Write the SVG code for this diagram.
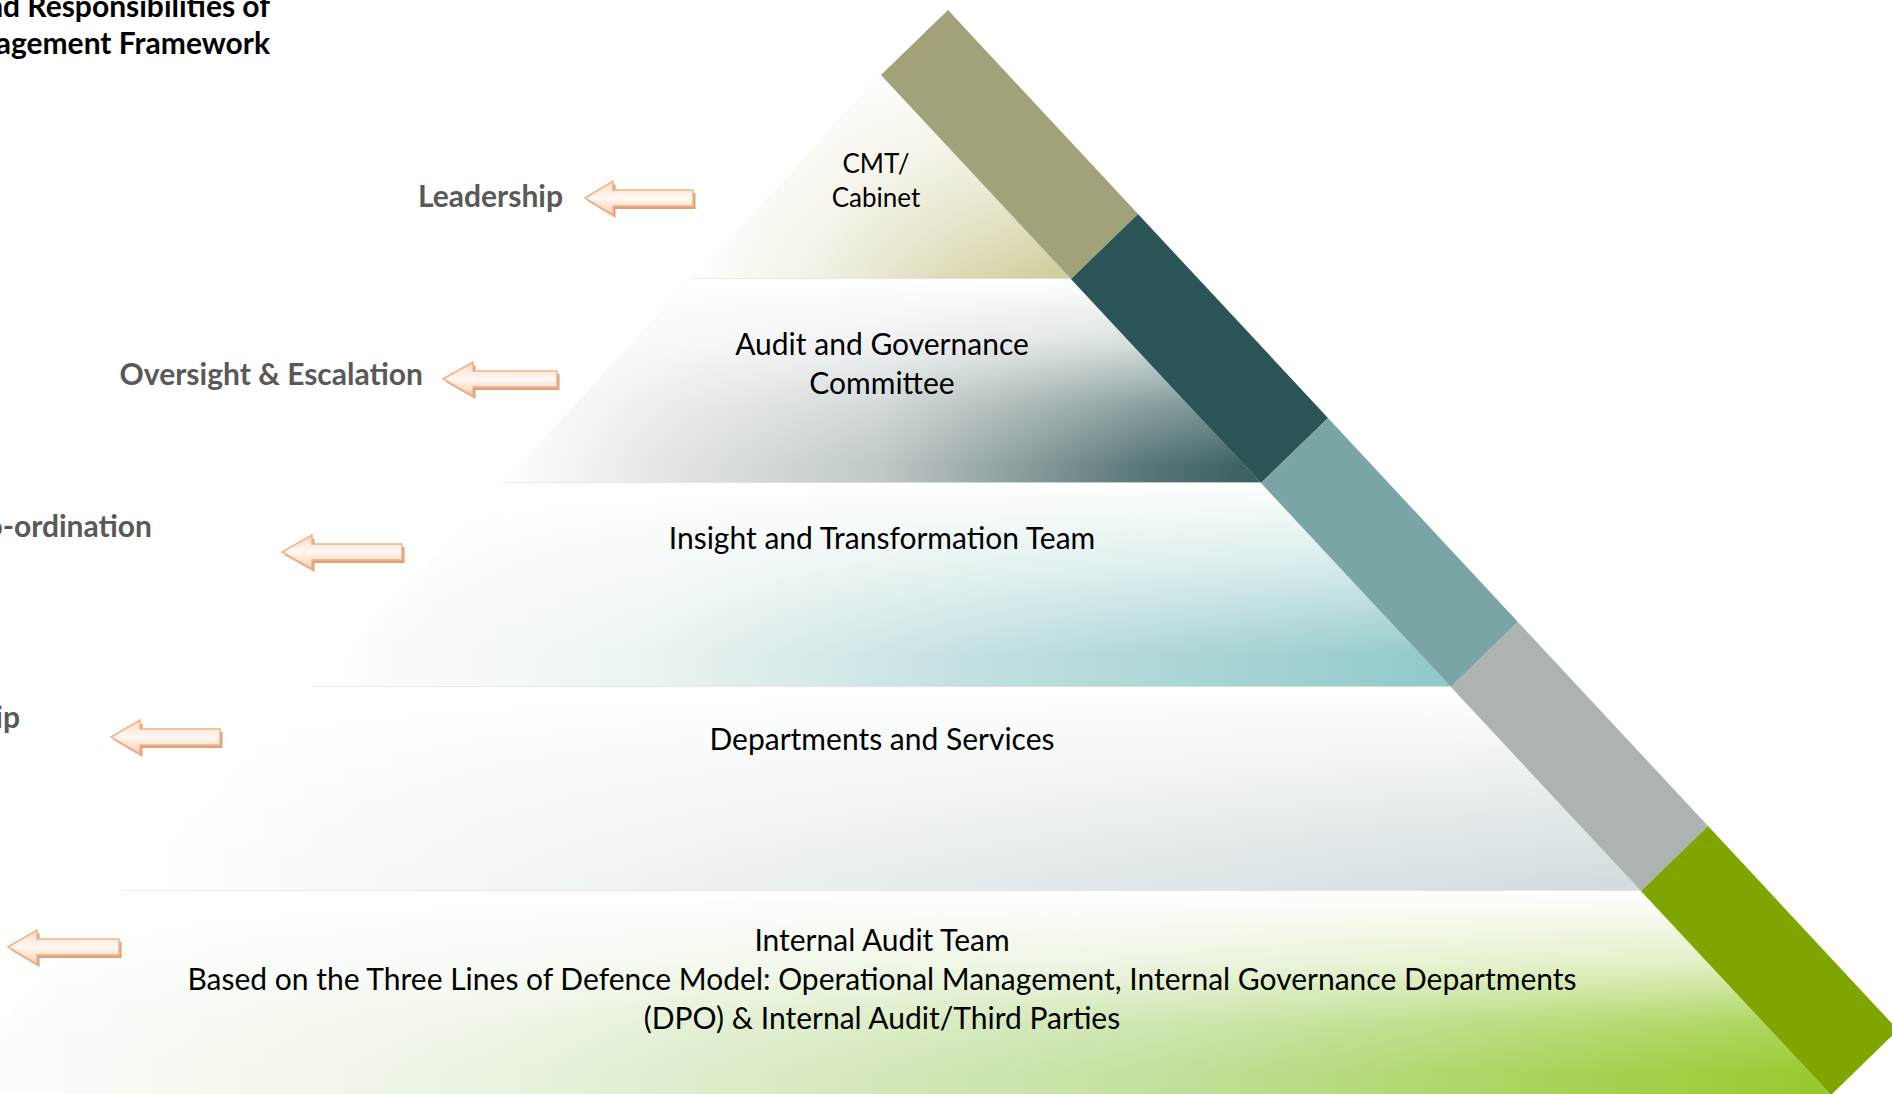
<svg xmlns="http://www.w3.org/2000/svg" width="1892" height="1094" viewBox="0 0 1892 1094">
<style>
.lbl{font-family:Lato,"Liberation Sans",sans-serif;font-weight:bold;font-size:30px;fill:#595959;text-anchor:end}
.ttl{font-family:Lato,"Liberation Sans",sans-serif;font-weight:bold;font-size:30px;fill:#000;text-anchor:end}
.txt{font-family:Lato,"Liberation Sans",sans-serif;font-size:30px;fill:#000;text-anchor:middle}
.sm{font-size:26px}
.sep{stroke:#e2e5e6;stroke-width:1.5;fill:none}
.arr{fill:url(#ga);stroke:#f4b383;stroke-width:1.5;stroke-linejoin:miter}
.shd{fill:#d8a47f}
</style>
<defs>
<linearGradient id="ga" x1="0" y1="0" x2="0" y2="1">
<stop offset="0" stop-color="#fbd0ad"/><stop offset="0.2" stop-color="#fde7d8"/><stop offset="0.5" stop-color="#fff8f3"/><stop offset="0.85" stop-color="#fcdac0"/><stop offset="1" stop-color="#f9c49b"/>
</linearGradient>
<linearGradient id="h1" gradientUnits="userSpaceOnUse" x1="692" y1="0" x2="1071" y2="0">
<stop offset="0" stop-color="#ffffff"/><stop offset="0.35" stop-color="#f0f0e2"/><stop offset="0.7" stop-color="#dcdab4"/><stop offset="1" stop-color="#cecc96"/>
</linearGradient>
<linearGradient id="v1" gradientUnits="userSpaceOnUse" x1="0" y1="75" x2="0" y2="279">
<stop offset="0" stop-color="#fff" stop-opacity="0.95"/><stop offset="0.5" stop-color="#fff" stop-opacity="0.55"/><stop offset="1" stop-color="#fff" stop-opacity="0"/>
</linearGradient>
<linearGradient id="h2" gradientUnits="userSpaceOnUse" x1="502" y1="0" x2="1261" y2="0">
<stop offset="0" stop-color="#ffffff"/><stop offset="0.22" stop-color="#e2e5e6"/><stop offset="0.5" stop-color="#c0c8c9"/><stop offset="0.7" stop-color="#869999"/><stop offset="0.85" stop-color="#577676"/><stop offset="1" stop-color="#355f5e"/>
</linearGradient>
<linearGradient id="v2" gradientUnits="userSpaceOnUse" x1="0" y1="279" x2="0" y2="483">
<stop offset="0" stop-color="#fff" stop-opacity="1"/><stop offset="0.3" stop-color="#fff" stop-opacity="0.78"/><stop offset="0.62" stop-color="#fff" stop-opacity="0.3"/><stop offset="0.92" stop-color="#fff" stop-opacity="0"/>
</linearGradient>
<linearGradient id="h3" gradientUnits="userSpaceOnUse" x1="312" y1="0" x2="1451" y2="0">
<stop offset="0" stop-color="#ffffff"/><stop offset="0.3" stop-color="#ebf3f3"/><stop offset="0.6" stop-color="#c0dfdf"/><stop offset="1" stop-color="#90c9c9"/>
</linearGradient>
<linearGradient id="v3" gradientUnits="userSpaceOnUse" x1="0" y1="483" x2="0" y2="687">
<stop offset="0" stop-color="#fff" stop-opacity="1"/><stop offset="0.4" stop-color="#fff" stop-opacity="0.6"/><stop offset="0.85" stop-color="#fff" stop-opacity="0"/>
</linearGradient>
<linearGradient id="h4" gradientUnits="userSpaceOnUse" x1="122" y1="0" x2="1641" y2="0">
<stop offset="0" stop-color="#ffffff"/><stop offset="0.3" stop-color="#f1f4f5"/><stop offset="1" stop-color="#d2dcdf"/>
</linearGradient>
<linearGradient id="v4" gradientUnits="userSpaceOnUse" x1="0" y1="687" x2="0" y2="891">
<stop offset="0" stop-color="#fff" stop-opacity="1"/><stop offset="0.95" stop-color="#fff" stop-opacity="0"/>
</linearGradient>
<linearGradient id="h5" gradientUnits="userSpaceOnUse" x1="-68" y1="0" x2="1831" y2="0">
<stop offset="0" stop-color="#ffffff"/><stop offset="0.3" stop-color="#eaf3e0"/><stop offset="0.65" stop-color="#c2e09c"/><stop offset="1" stop-color="#96ca2c"/>
</linearGradient>
<linearGradient id="v5" gradientUnits="userSpaceOnUse" x1="0" y1="891" x2="0" y2="1095">
<stop offset="0" stop-color="#fff" stop-opacity="1"/><stop offset="0.35" stop-color="#fff" stop-opacity="0.7"/><stop offset="0.65" stop-color="#fff" stop-opacity="0.2"/><stop offset="0.9" stop-color="#fff" stop-opacity="0"/>
</linearGradient>
</defs>
<rect width="1892" height="1094" fill="#fff"/>

<g id="title">
<text class="ttl" x="270" y="17">nd Responsibilities of</text>
<text class="ttl" x="270" y="54">agement Framework</text>
</g>

<g id="layer-cmt">
<polygon points="881,75 1071,279 692,279" fill="url(#h1)"/>
<polygon points="881,75 1071,279 692,279" fill="url(#v1)"/>
<line class="sep" x1="692" y1="279" x2="1071" y2="279"/>
<text class="txt sm" x="876" y="173">CMT/</text>
<text class="txt sm" x="876" y="207">Cabinet</text>
</g>
<g id="layer-audit">
<polygon points="692,279 1071,279 1261,483 502,483" fill="url(#h2)"/>
<polygon points="692,279 1071,279 1261,483 502,483" fill="url(#v2)"/>
<line class="sep" x1="502" y1="483" x2="1261" y2="483"/>
<text class="txt" x="882" y="355">Audit and Governance</text>
<text class="txt" x="882" y="394">Committee</text>
</g>
<g id="layer-insight">
<polygon points="502,483 1261,483 1451,687 312,687" fill="url(#h3)"/>
<polygon points="502,483 1261,483 1451,687 312,687" fill="url(#v3)"/>
<line class="sep" x1="312" y1="687" x2="1451" y2="687"/>
<text class="txt" x="882" y="549">Insight and Transformation Team</text>
</g>
<g id="layer-departments">
<polygon points="312,687 1451,687 1641,891 122,891" fill="url(#h4)"/>
<polygon points="312,687 1451,687 1641,891 122,891" fill="url(#v4)"/>
<line class="sep" x1="122" y1="891" x2="1641" y2="891"/>
<text class="txt" x="882" y="750">Departments and Services</text>
</g>
<g id="layer-internal-audit">
<polygon points="122,891 1641,891 1831,1095 -68,1095" fill="url(#h5)"/>
<polygon points="122,891 1641,891 1831,1095 -68,1095" fill="url(#v5)"/>
<text class="txt" x="882" y="951">Internal Audit Team</text>
<text class="txt" x="882" y="990">Based on the Three Lines of Defence Model: Operational Management, Internal Governance Departments</text>
<text class="txt" x="882" y="1029">(DPO) &amp; Internal Audit/Third Parties</text>
</g>

<g id="band">
<polygon points="881,75 1071,279 1138,214 948,10" fill="#a2a27a"/>
<polygon points="1071,279 1261,483 1328,418 1138,214" fill="#2a5455"/>
<polygon points="1261,483 1451,687 1518,622 1328,418" fill="#79a5a4"/>
<polygon points="1451,687 1641,891 1708,826 1518,622" fill="#acb3b2"/>
<polygon points="1641,891 1831,1095 1898,1030 1708,826" fill="#7fa600"/>
</g>

<g id="labels">
<text class="lbl" x="563" y="207">Leadership</text>
<text class="lbl" x="423" y="385">Oversight &amp; Escalation</text>
<text class="lbl" x="152" y="537">o-ordination</text>
<text class="lbl" x="20" y="728">ip</text>
</g>

<g id="connectors">
<path class="shd" transform="translate(2.5,3)" d="M585,198 L613,181 L613,190 L693,190 L693,206 L613,206 L613,215 Z"/>
<path class="arr" d="M585,198 L613,181 L613,190 L693,190 L693,206 L613,206 L613,215 Z"/>
<path class="shd" transform="translate(2.5,3)" d="M443,379 L473,362 L473,371 L557,371 L557,387 L473,387 L473,396 Z"/>
<path class="arr" d="M443,379 L473,362 L473,371 L557,371 L557,387 L473,387 L473,396 Z"/>
<path class="shd" transform="translate(2.5,3)" d="M282,552 L312,535 L312,544 L402,544 L402,560 L312,560 L312,569 Z"/>
<path class="arr" d="M282,552 L312,535 L312,544 L402,544 L402,560 L312,560 L312,569 Z"/>
<path class="shd" transform="translate(2.5,3)" d="M111,737 L140,720 L140,729 L220,729 L220,745 L140,745 L140,754 Z"/>
<path class="arr" d="M111,737 L140,720 L140,729 L220,729 L220,745 L140,745 L140,754 Z"/>
<path class="shd" transform="translate(2.5,3)" d="M8,947 L37,930 L37,939 L119,939 L119,955 L37,955 L37,964 Z"/>
<path class="arr" d="M8,947 L37,930 L37,939 L119,939 L119,955 L37,955 L37,964 Z"/>
</g>
</svg>
